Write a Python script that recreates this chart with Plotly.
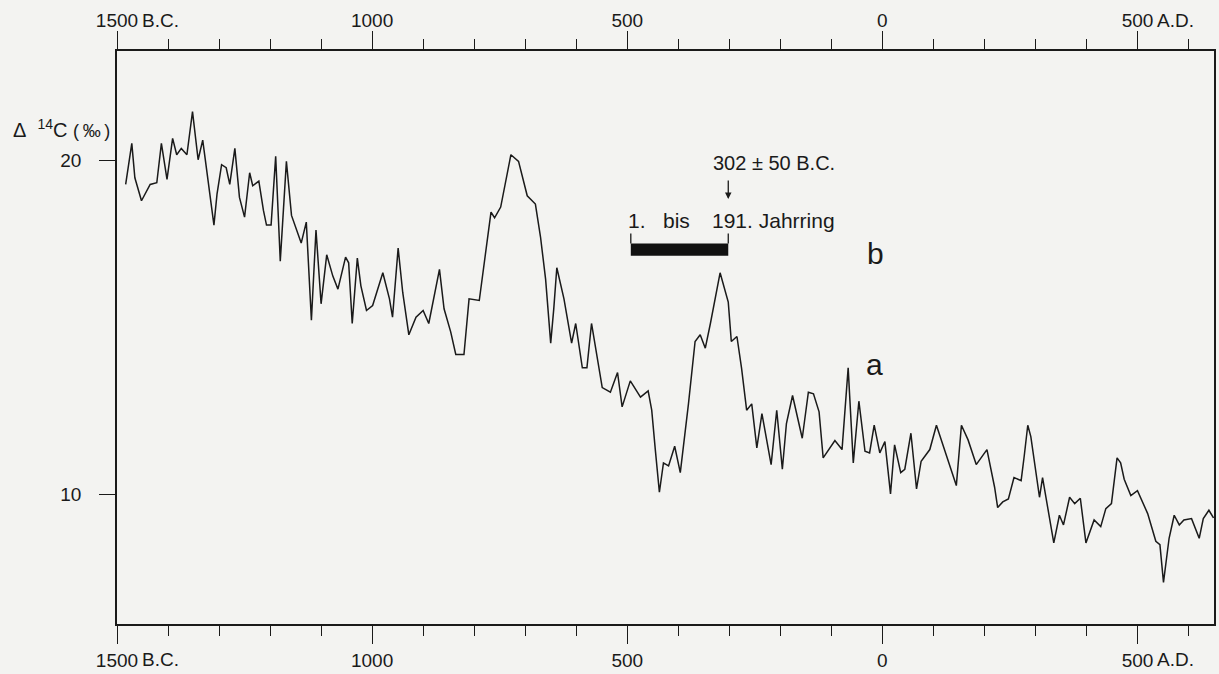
import plotly.graph_objects as go

# ---- data (year: negative = B.C.) ----
years = [
    -1483, -1471, -1465, -1452, -1435, -1422, -1413, -1402, -1391, -1383,
    -1374, -1363, -1352, -1341, -1332, -1322, -1310, -1304, -1295, -1286,
    -1279, -1269, -1260, -1250, -1240, -1234, -1222, -1213, -1207, -1198,
    -1189, -1180, -1168, -1158, -1139, -1129, -1119, -1110, -1100, -1089,
    -1077, -1067,
    -1052, -1046, -1039, -1029, -1022, -1011, -999, -979, -966, -960,
    -949, -940, -928, -914, -900, -889, -868, -859, -846, -836,
    -820, -810, -790, -767, -760, -748, -728, -713, -696, -680,
    -670, -660, -650, -644, -638,
    -624, -609, -601, -588, -579, -570, -549, -533, -519, -510,
    -494, -474, -459, -452, -445, -437, -429, -419, -407, -396,
    -380, -367, -357, -347, -337, -318, -302, -296, -285, -276,
    -266, -256, -246, -236, -218, -207,
    -196, -188, -176, -157, -145, -135, -124, -116, -93, -79,
    -67, -57, -46, -34, -25, -16, -5, 5, 16, 24,
    36, 44, 56, 67, 76, 93, 106, 145, 155, 168,
    184, 205,
    220, 226, 236, 247, 258, 272, 278, 285, 291, 298,
    308, 314, 336, 347, 355, 367, 377, 388, 399, 415,
    428, 438, 449, 460, 467, 474, 487, 500, 520, 536,
    544, 551, 562, 572, 582, 591, 606, 621, 629, 640,
    649,
]

delta14c = [
    19.29, 20.52, 19.49, 18.80, 19.29, 19.34, 20.52, 19.44, 20.67, 20.18,
    20.37, 20.18, 21.47, 20.03, 20.62, 19.49, 18.07, 19.00, 19.88, 19.79,
    19.29, 20.37, 18.90, 18.31, 19.64, 19.25, 19.39, 18.51, 18.07, 18.07,
    20.13, 16.99, 19.98, 18.36, 17.53, 18.16, 15.22, 17.92, 15.71, 17.18,
    16.54, 16.15,
    17.11, 16.94, 15.12, 17.08, 16.25, 15.51, 15.66, 16.64, 15.86, 15.31,
    17.38, 16.05, 14.78, 15.31, 15.51, 15.12, 16.74, 15.56, 14.87, 14.19,
    14.19, 15.86, 15.81, 18.46, 18.29, 18.61, 20.18, 19.98, 18.95, 18.70,
    17.72, 16.45, 14.53, 15.56, 16.79,
    15.86, 14.53, 15.12, 13.79, 13.79, 15.12, 13.20, 13.06, 13.65, 12.62,
    13.40, 12.91, 13.10, 12.52, 11.34, 10.06, 10.94, 10.85, 11.44, 10.65,
    12.71, 14.58, 14.78, 14.38, 15.12, 16.64, 15.76, 14.58, 14.73, 13.79,
    12.52, 12.71, 11.39, 12.42, 10.89, 12.52,
    10.75, 12.12, 12.96, 11.68, 13.06, 13.01, 12.47, 11.09, 11.61, 11.34,
    13.79, 10.94, 12.79, 11.29, 11.24, 12.07, 11.24, 11.58, 10.01, 11.48,
    10.65, 10.75, 11.83, 10.16, 10.99, 11.34, 12.07, 10.26, 12.07, 11.63,
    10.89, 11.34,
    10.21, 9.60, 9.77, 9.86, 10.50, 10.41, 11.14, 12.07, 11.73, 11.04,
    9.91, 10.50, 8.54, 9.37, 9.08, 9.91, 9.72, 9.88, 8.54, 9.23,
    9.03, 9.57, 9.72, 11.09, 10.94, 10.45, 9.96, 10.11, 9.42, 8.59,
    8.49, 7.36, 8.68, 9.37, 9.08, 9.23, 9.27, 8.68, 9.27, 9.52,
    9.29,
]

x_major = [-1500, -1000, -500, 0, 500]
x_major_text = ["1500", "1000", "500", "0", "500"]
era_labels = [(-1500, "B.C.", 23), (500, "A.D.", 18)]
y_ticks = [10, 20]
y_tick_text = ["10", "20"]

ring_first, ring_last = -493, -302      # 1. bis 191. Jahrring
bar_low, bar_high, bar_tick_top = 17.15, 17.52, 17.82
date_label = "302 ± 50 B.C."

X_RANGE = [-1500, 650]
Y_RANGE = [6.11, 23.29]

INK = "#1a1a1a"
BG = "#f3f3f1"
FONT = "Liberation Sans, Arial, Helvetica, sans-serif"

fig = go.Figure()
fig.add_trace(go.Scatter(
    x=years, y=delta14c, mode="lines",
    line=dict(color=INK, width=1.5),
    hoverinfo="skip", showlegend=False,
))
# invisible helper so the top axis is drawn
fig.add_trace(go.Scatter(
    x=[years[0]], y=[delta14c[0]], xaxis="x2", mode="markers",
    marker=dict(opacity=0), hoverinfo="skip", showlegend=False,
))

xcommon = dict(
    range=X_RANGE, tickmode="array", tickvals=x_major, ticktext=x_major_text,
    ticks="outside", ticklen=18, tickwidth=1.3, tickcolor=INK,
    showline=True, linecolor=INK, linewidth=1.5,
    showgrid=False, zeroline=False, fixedrange=True,
    tickfont=dict(size=19, color=INK),
    minor=dict(tickmode="linear", tick0=-1500, dtick=100, ticks="outside",
               ticklen=10, tickwidth=1.2, tickcolor=INK, showgrid=False),
)

fig.update_layout(
    width=1219, height=674, autosize=False,
    margin=dict(l=117, r=3, t=51, b=40, pad=0),
    paper_bgcolor=BG, plot_bgcolor=BG,
    font=dict(family=FONT, color=INK, size=19),
    xaxis=dict(**xcommon, side="bottom", anchor="y"),
    xaxis2=dict(**xcommon, side="top", overlaying="x", anchor="y",
                ticklabelstandoff=-3),
    yaxis=dict(
        range=Y_RANGE, tickmode="array", tickvals=y_ticks, ticktext=y_tick_text,
        ticks="outside", ticklen=16, tickwidth=1.3, tickcolor=INK,
        showline=True, mirror=True, linecolor=INK, linewidth=1.5,
        showgrid=False, zeroline=False, fixedrange=True,
        tickfont=dict(size=19, color=INK), ticklabelstandoff=14,
    ),
)

ann = []
for xv, suf, shift in era_labels:
    ann.append(dict(x=xv, xref="x", y=1, yref="paper", yanchor="middle",
                    yshift=31, xanchor="left", xshift=shift, text=suf,
                    showarrow=False, font=dict(size=19)))
    ann.append(dict(x=xv, xref="x", y=0, yref="paper", yanchor="middle",
                    yshift=-35, xanchor="left", xshift=shift, text=suf,
                    showarrow=False, font=dict(size=19)))

ann.append(dict(x=0, xref="paper", xanchor="right", xshift=-5,
                y=20.96, yref="y", yanchor="middle",
                text=("Δ\u00a0\u00a0<sup>14</sup>C\u00a0<span style='font-size:18px'>"
                      "(\u2009‰\u2009)</span>"),
                showarrow=False, font=dict(size=20)))

ann.append(dict(x=-335, y=19.93, xanchor="left", yanchor="middle",
                text=date_label, showarrow=False, font=dict(size=20)))
ann.append(dict(x=ring_last, y=18.85, ax=ring_last, ay=19.45,
                axref="x", ayref="y", text="", showarrow=True,
                arrowhead=2, arrowsize=1, arrowwidth=1.3, arrowcolor=INK))
ann.append(dict(x=-502, y=18.22, xanchor="left", yanchor="middle",
                text="1.", showarrow=False, font=dict(size=21)))
ann.append(dict(x=-403, y=18.22, xanchor="center", yanchor="middle",
                text="bis", showarrow=False, font=dict(size=21)))
ann.append(dict(x=-337, y=18.22, xanchor="left", yanchor="middle",
                text="191. Jahrring", showarrow=False, font=dict(size=21)))
ann.append(dict(x=-14, y=17.22, xanchor="center", yanchor="middle",
                text="b", showarrow=False, font=dict(size=30)))
ann.append(dict(x=-16, y=13.89, xanchor="center", yanchor="middle",
                text="a", showarrow=False, font=dict(size=30)))
fig.update_layout(annotations=ann)

fig.add_shape(type="rect", x0=ring_first, x1=ring_last, y0=bar_low, y1=bar_high,
              xref="x", yref="y", fillcolor="#111", line=dict(width=0))
for xv in (ring_first, ring_last):
    fig.add_shape(type="line", x0=xv, x1=xv, y0=bar_high, y1=bar_tick_top,
                  xref="x", yref="y", line=dict(color=INK, width=1.3))

fig.write_html("out.html", config={"displayModeBar": False})
